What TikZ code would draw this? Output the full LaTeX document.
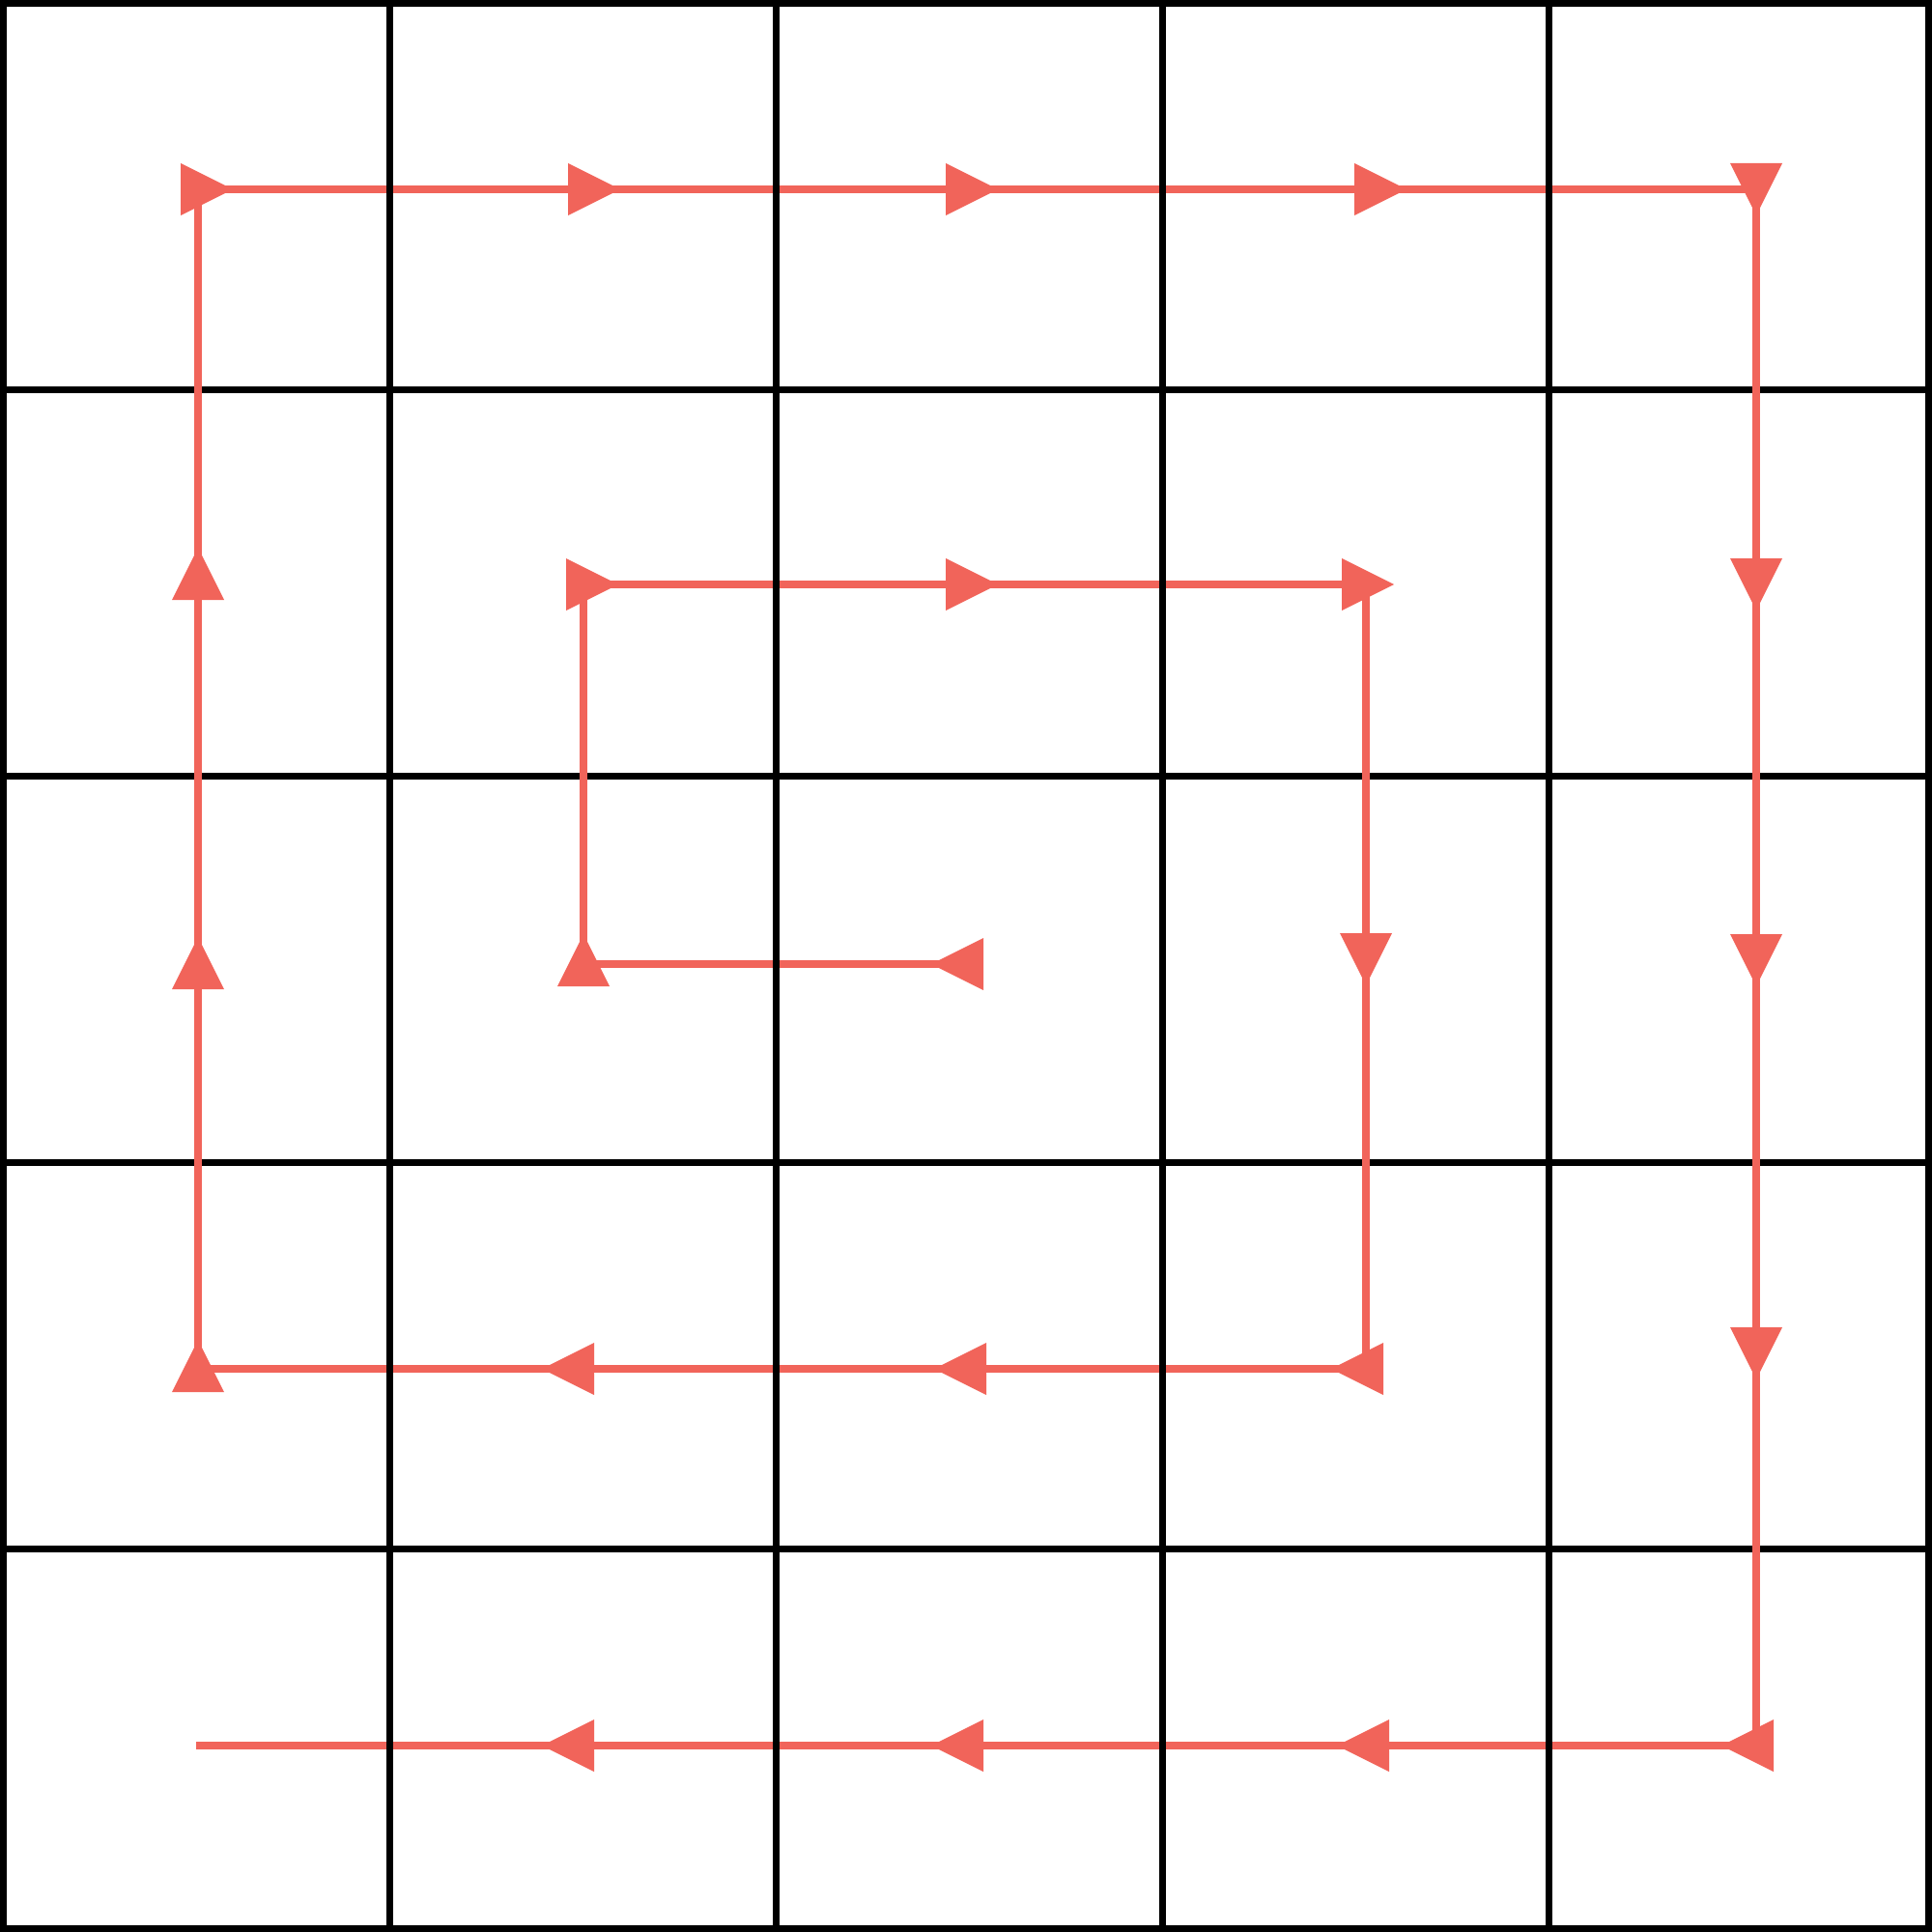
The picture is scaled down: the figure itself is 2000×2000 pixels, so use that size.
\documentclass[tikz,border=0pt]{standalone}
\definecolor{pathred}{RGB}{241,100,90}
\begin{document}
\begin{tikzpicture}[x=0.01cm,y=-0.01cm,
  gridline/.style={line width=0.07cm,black},
  flowline/.style={line width=0.08cm,pathred,line join=miter},
  tri/.pic={\fill[pathred] (-18,-27) -- (36,0) -- (-18,27) -- cycle;}]
\useasboundingbox (0,0) rectangle (2000,2000);
% border and horizontal grid lines (under the path)
\draw[gridline] (3.5,3.5) rectangle (1996.5,1996.5);
\foreach \v in {403.5,803.5,1203.5,1603.5}
  \draw[gridline] (3.5,\v) -- (1996.5,\v);
% path points
\coordinate (s0) at (1000,998);
\coordinate (s1) at (604,998);
\coordinate (s2) at (604,605);
\coordinate (s3) at (997,605);
\coordinate (s4) at (1414,605);
\coordinate (s5) at (1414,984);
\coordinate (s6) at (1414,1417);
\coordinate (s7) at (1003,1417);
\coordinate (s8) at (597,1417);
\coordinate (s9) at (205,1417);
\coordinate (s10) at (205,1006);
\coordinate (s11) at (205,603);
\coordinate (s12) at (205,196);
\coordinate (s13) at (606,196);
\coordinate (s14) at (997,196);
\coordinate (s15) at (1420,196);
\coordinate (s16) at (1818,196);
\coordinate (s17) at (1818,596);
\coordinate (s18) at (1818,985);
\coordinate (s19) at (1818,1392);
\coordinate (s20) at (1818,1807);
\coordinate (s21) at (1420,1807);
\coordinate (s22) at (1000,1807);
\coordinate (s23) at (597,1807);
\coordinate (s24) at (203,1807);
\draw[flowline] (s0) -- (s1) -- (s2) -- (s3) -- (s4) -- (s5) -- (s6) -- (s7)
  -- (s8) -- (s9) -- (s10) -- (s11) -- (s12) -- (s13) -- (s14) -- (s15)
  -- (s16) -- (s17) -- (s18) -- (s19) -- (s20) -- (s21) -- (s22) -- (s23) -- (s24);
% arrow marks
\pic[rotate=180] at (s0) {tri};
\pic[rotate=90] at ([yshift=-0.05cm]s1) {tri};
\pic at (s2) {tri};
\pic at (s3) {tri};
\pic at ([xshift=-0.07cm]s4) {tri};
\pic[rotate=-90] at (s5) {tri};
\pic[rotate=180] at (s6) {tri};
\pic[rotate=180] at (s7) {tri};
\pic[rotate=180] at (s8) {tri};
\pic[rotate=90] at ([yshift=-0.06cm]s9) {tri};
\pic[rotate=90] at (s10) {tri};
\pic[rotate=90] at (s11) {tri};
\pic at (s12) {tri};
\pic at (s13) {tri};
\pic at (s14) {tri};
\pic at (s15) {tri};
\pic[rotate=-90] at ([yshift=0.09cm]s16) {tri};
\pic[rotate=-90] at (s17) {tri};
\pic[rotate=-90] at (s18) {tri};
\pic[rotate=-90] at (s19) {tri};
\pic[rotate=180] at (s20) {tri};
\pic[rotate=180] at (s21) {tri};
\pic[rotate=180] at (s22) {tri};
\pic[rotate=180] at (s23) {tri};
% vertical grid lines (over the path)
\foreach \v in {403.5,803.5,1203.5,1603.5}
  \draw[gridline] (\v,3.5) -- (\v,1996.5);
\end{tikzpicture}
\end{document}
